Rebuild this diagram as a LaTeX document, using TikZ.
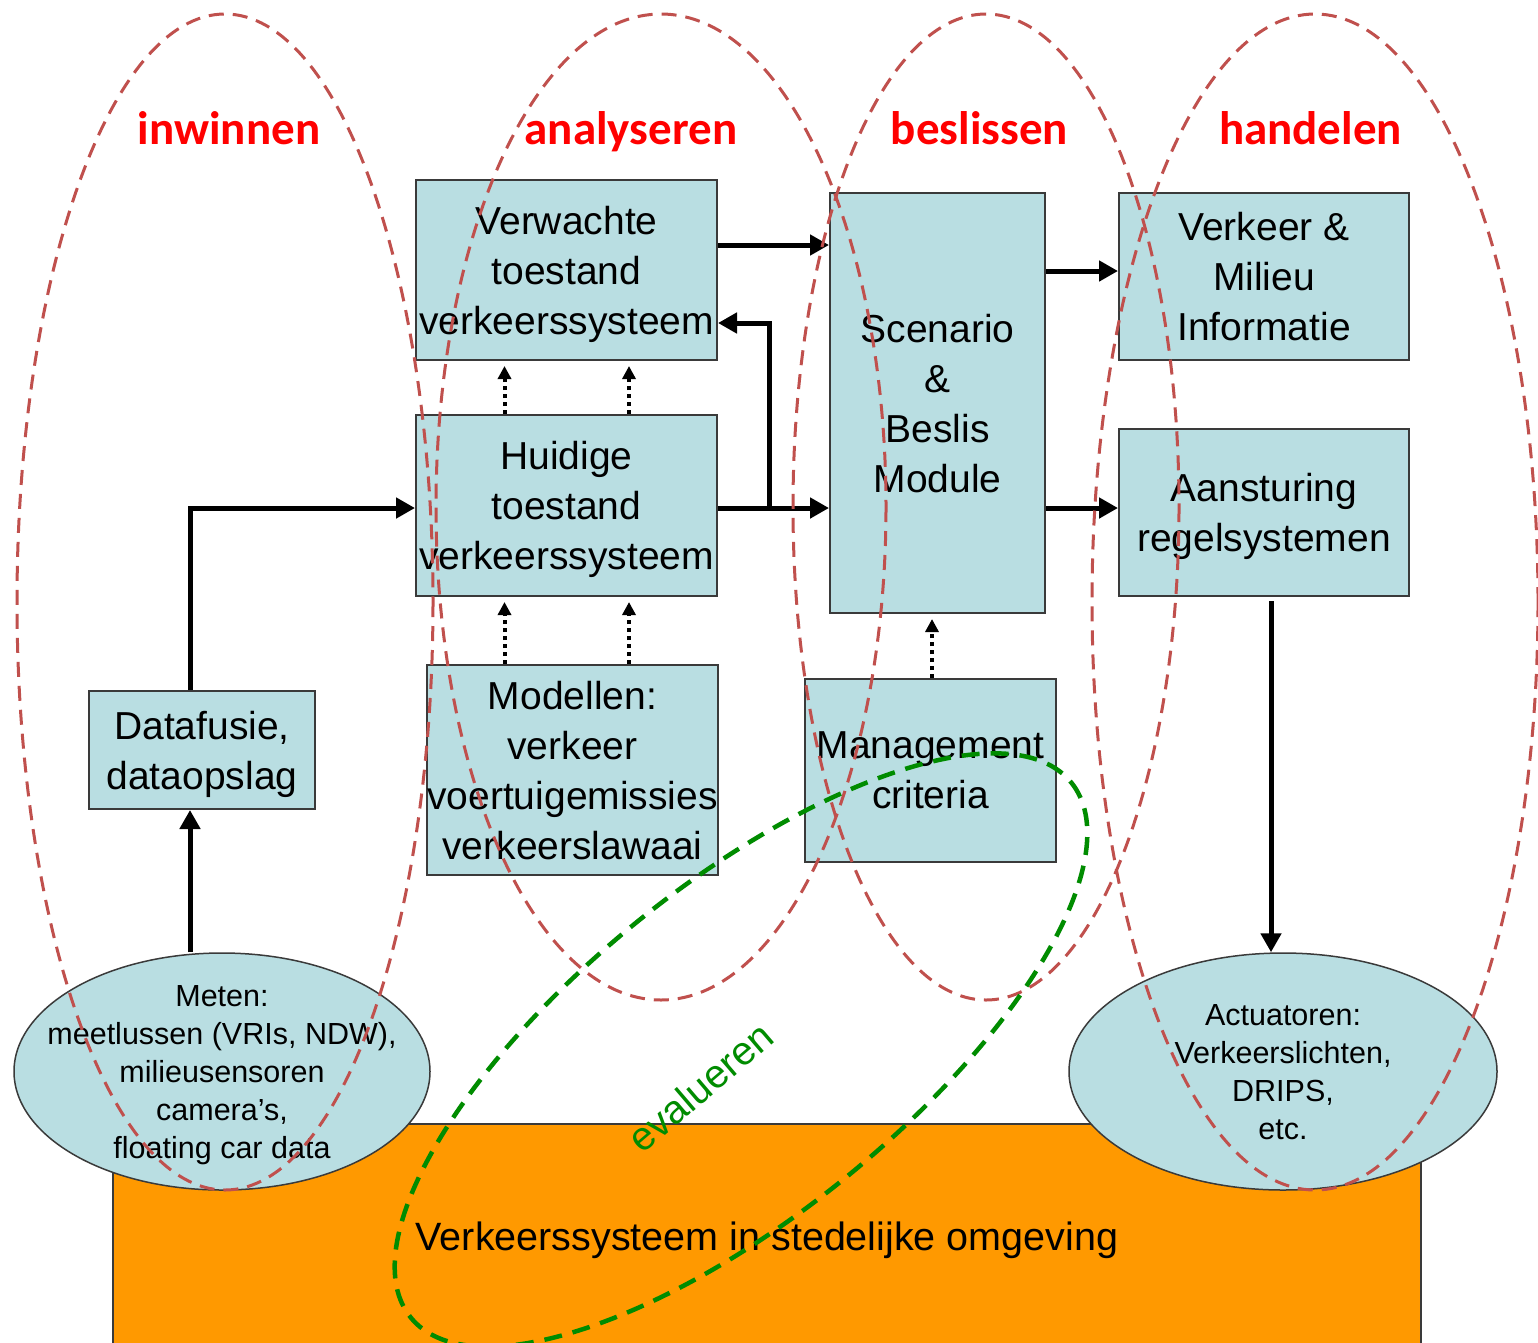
\documentclass[tikz,border=0pt]{standalone}
\usepackage{fontspec}
\setmainfont{Liberation Sans}
\newfontfamily\lblfont{Carlito}
\usetikzlibrary{shapes.geometric,arrows.meta}
\definecolor{boxfill}{HTML}{B9DEE2}
\definecolor{boxline}{HTML}{3A3A3A}
\definecolor{redd}{HTML}{C0504D}
\definecolor{greend}{HTML}{008C00}
\definecolor{labelred}{HTML}{FF0000}
\definecolor{orng}{HTML}{FF9900}
\begin{document}
\begin{tikzpicture}[x=1pt,y=-1pt,
  box/.style={draw=boxline, line width=2pt, fill=boxfill, inner sep=0pt, align=center, text=black, text depth=0pt, font=\fontsize{39}{50}\selectfont},
  oval/.style={ellipse, draw=boxline, line width=1.5pt, fill=boxfill, inner xsep=-40pt, inner ysep=-20pt, align=center, text=black, text depth=0pt, font=\fontsize{30.5}{38}\selectfont},
  arr/.style={line width=5pt, -{Triangle[length=19pt,width=20pt]}},
  dotarr/.style={line width=4pt, dash pattern=on 4pt off 4pt, -{Triangle[length=13pt,width=13pt]}, shorten >=5pt},
  phase/.style={draw=redd, line width=3pt, dash pattern=on 15pt off 9pt},
  evalloop/.style={draw=greend, line width=4.5pt, dash pattern=on 18pt off 11pt},
  lbl/.style={text=labelred, anchor=base, inner sep=0pt, font=\lblfont\bfseries\fontsize{47}{50}\selectfont}
]
\useasboundingbox (0,0) rectangle (1538,1342);
\fill[white] (0,0) rectangle (1538,1342);

% city
\node[draw=boxline, line width=1.5pt, fill=orng, minimum width=1308, minimum height=232, inner sep=0pt, font=\fontsize{39.5}{48}\selectfont] (city) at (767,1240) {Verkeerssysteem in stedelijke omgeving};

% ovals
\node[oval, minimum width=416, minimum height=237] (met) at (222,1071.5) {Meten:\\meetlussen (VRIs, NDW),\\milieusensoren\\camera’s,\\floating car data};
\node[oval, minimum width=428, minimum height=237] (act) at (1283,1071.5) {Actuatoren:\\Verkeerslichten,\\DRIPS,\\etc.};

% boxes
\node[box, minimum width=301, minimum height=180] (verw) at (566.5,270) {Verwachte\\toestand\\verkeerssysteem};
\node[box, minimum width=301, minimum height=181] (huid) at (566.5,505.5) {Huidige\\toestand\\verkeerssysteem};
\node[box, minimum width=289, minimum height=210] (mod) at (572.5,770) {Modellen:\\verkeer\\voertuigemissies\\verkeerslawaai};
\node[box, minimum width=215, minimum height=420] (scen) at (937.5,403) {Scenario\\\&\\Beslis\\Module};
\node[box, minimum width=251, minimum height=183] (man) at (930.5,770.5) {Management\\criteria};
\node[box, minimum width=290, minimum height=167] (vm) at (1264,276.5) {Verkeer \&\\Milieu\\Informatie};
\node[box, minimum width=290, minimum height=167] (aan) at (1264,512.5) {Aansturing\\regelsystemen};
\node[box, minimum width=226, minimum height=118] (dat) at (202,750) {Datafusie,\\dataopslag};

% solid arrows
\draw[arr] ([xshift=-12pt]dat.south |- met.north) -- ([xshift=-12pt]dat.south);
\draw[arr] ([xshift=-12pt]dat.north) |- ([yshift=-2.5pt]huid.west);
\draw[arr] ([yshift=-2.5pt]huid.east) -- ([yshift=-2.5pt]huid.east -| scen.west);
\coordinate (br) at ([xshift=51pt,yshift=-2.5pt]huid.east);
\draw[arr] (br) |- ([yshift=-53pt]verw.east);
\draw[arr] ([yshift=25pt]verw.east) -- ([yshift=25pt]verw.east -| scen.west);
\draw[arr] ([yshift=5.5pt]vm.west -| scen.east) -- ([yshift=5.5pt]vm.west);
\draw[arr] ([yshift=4.5pt]aan.west -| scen.east) -- ([yshift=4.5pt]aan.west);
\draw[arr] ([xshift=7pt,yshift=-4pt]aan.south) -- ([xshift=7pt]aan.south |- act.north);

% dotted arrows
\draw[dotarr] ([xshift=-62pt]huid.north) -- ([xshift=-62pt]huid.north |- verw.south);
\draw[dotarr] ([xshift=62.5pt]huid.north) -- ([xshift=62.5pt]huid.north |- verw.south);
\draw[dotarr] ([xshift=-62pt]huid.south |- mod.north) -- ([xshift=-62pt]huid.south);
\draw[dotarr] ([xshift=62.5pt]huid.south |- mod.north) -- ([xshift=62.5pt]huid.south);
\draw[dotarr] ([xshift=1.5pt]man.north) -- ([xshift=1.5pt]man.north |- scen.south);

% phase ellipses
\draw[phase] (225,602) ellipse [x radius=208, y radius=588];
\draw[phase] (661,507) ellipse [x radius=225, y radius=493];
\draw[phase] (986,507) ellipse [x radius=193, y radius=493];
\draw[phase] (1315,602) ellipse [x radius=223, y radius=588];

\node[lbl] (l1) at (229,144) {inwinnen};
\node[lbl] (l2) at (631,144) {analyseren};
\node[lbl] (l3) at (979.5,144) {beslissen};
\node[lbl] (l4) at (1310.5,144) {handelen};

% evaluation loop
\draw[evalloop, rotate around={39:(741,1050)}] (741,1050) ellipse [x radius=425, y radius=165];
\node[text=greend, rotate=40.5, inner sep=0pt, font=\fontsize{40}{44}\selectfont] (ev) at (700,1087) {evalueren};
\end{tikzpicture}
\end{document}
